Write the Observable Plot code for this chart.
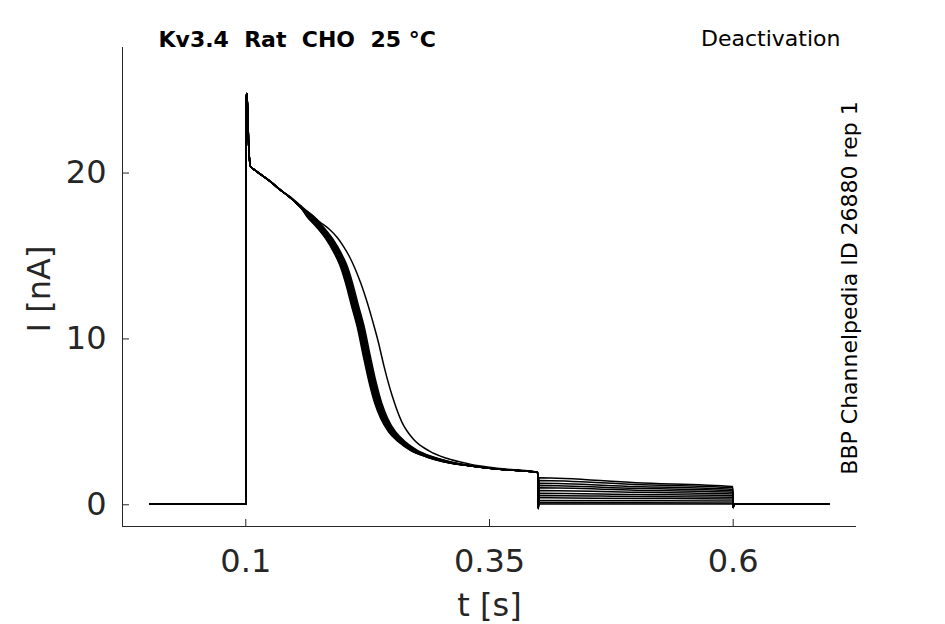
<!DOCTYPE html>
<html>
<head>
<meta charset="utf-8">
<script src="https://cdn.jsdelivr.net/npm/d3@7"></script>
<script src="https://cdn.jsdelivr.net/npm/@observablehq/plot@0.6"></script>
<style>
  html, body { margin: 0; padding: 0; background: #fff; }
  svg text { white-space: pre; }
</style>
</head>
<body>
<div id="chart"></div>
<script>
// ---- data ----
const titleText = "Kv3.4  Rat  CHO  25 °C";
const protocolText = "Deactivation";
const sourceText = "BBP Channelpedia ID 26880 rep 1";
const xLabel = "t [s]";
const yLabel = "I [nA]";
const xTicks = [0.1, 0.35, 0.6];
const xTickLabels = ["0.1", "0.35", "0.6"];
const yTicks = [0, 10, 20];
const xDomain = [-0.0265, 0.7265];
const yDomain = [-1.31, 27.57];

// holding baseline and tail
const baseStartT = 0.0015, baseEndT = 0.0999, baselineI = 0.05;
const tailStartT = 0.6008, tailEndT = 0.698, tailI = 0.04;

// activation pulse (time grid, s) and currents (nA)
const pulseT = [0.1000, 0.1005, 0.1012, 0.1030, 0.1048, 0.1100, 0.1250, 0.1350, 0.1460, 0.1560,
                0.1660, 0.1760, 0.1860, 0.1940, 0.2000, 0.2060, 0.2120, 0.2180, 0.2240, 0.2300,
                0.2360, 0.2420, 0.2500, 0.2600, 0.2720, 0.2880, 0.3060, 0.3300, 0.3580, 0.3995];
const bundleI = [0.05, 24.6, 24.8, 21.6, 20.4, 20.15, 19.5, 19.0, 18.5, 17.95,
                 17.4, 16.75, 16.0, 15.2, 14.45, 13.35, 12.0, 10.7, 9.0, 7.4,
                 6.1, 5.2, 4.4, 3.8, 3.3, 2.9, 2.6, 2.35, 2.15, 1.95];
const outlierI = [0.05, 24.6, 24.8, 21.6, 20.4, 20.15, 19.5, 19.0, 18.55, 18.05,
                  17.55, 17.05, 16.6, 16.1, 15.6, 15.0, 14.25, 13.35, 12.3, 11.1,
                  9.8, 8.3, 6.6, 5.0, 3.95, 3.25, 2.8, 2.45, 2.2, 1.97];
// per-sweep spread of the inactivation time inside the bundle (s)
const bundleDelay = [-0.0036, -0.0029, -0.0022, -0.0015, -0.0008, -0.0002, 0.0004, 0.0011, 0.0018, 0.0026, 0.0036];
const delayFrom = 0.166, delayTo = 0.306;

// deactivation step (0.4 – 0.6 s): per-sweep currents at start, middle, end
const stepOnT = 0.4000, stepOnSpike = -0.22;
const deacT = [0.4008, 0.5000, 0.5995];
const deacStart = [1.63, 1.46, 1.30, 1.16, 1.02, 0.70, 0.56, 0.42, 0.26, 0.12, 0.04, 0.86];
const deacMid   = [1.33, 1.22, 1.10, 0.99, 0.88, 0.62, 0.50, 0.38, 0.24, 0.12, 0.04, 0.75];
const deacEnd   = [1.10, 1.02, 0.92, 0.84, 0.75, 0.55, 0.45, 0.35, 0.22, 0.11, 0.04, 0.65];
const stepOffT = 0.6000, stepOffSpike = -0.17;

// ---- build sweep table ----
const rows = [];
const nSweeps = deacStart.length;
for (let k = 0; k < nSweeps; k++) {
  const isOutlier = k === nSweeps - 1;
  const vals = isOutlier ? outlierI : bundleI;
  const d = isOutlier ? 0 : bundleDelay[k];
  const push = (t, I) => rows.push({sweep: k, t, I});
  push(baseStartT, baselineI);
  push(baseEndT, baselineI);
  pulseT.forEach((t, i) => push(t >= delayFrom && t <= delayTo ? t + d : t, vals[i]));
  push(stepOnT, stepOnSpike);
  push(deacT[0], deacStart[k]);
  push(deacT[1], deacMid[k]);
  push(deacT[2], deacEnd[k]);
  push(stepOffT, stepOffSpike);
  push(tailStartT, tailI);
  push(tailEndT, tailI);
}

const axisColor = "#262626";
const font = "DejaVu Sans";

const chart = Plot.plot({
  width: 945,
  height: 624,
  marginLeft: 122,
  marginRight: 89,
  marginTop: 47,
  marginBottom: 98,
  style: {fontFamily: font, background: "white", color: axisColor},
  x: {domain: xDomain},
  y: {domain: yDomain},
  marks: [
    Plot.line(rows, {x: "t", y: "I", z: "sweep", stroke: "black", strokeWidth: 1.5, curve: "monotone-x"}),
    Plot.ruleX([xDomain[0]], {stroke: axisColor, strokeWidth: 1}),
    Plot.ruleY([yDomain[0]], {stroke: axisColor, strokeWidth: 1}),
    Plot.axisX({ticks: xTicks, tickSize: 7, dy: -7, fill: "none", stroke: axisColor, label: null}),
    Plot.axisX({ticks: xTicks, tickSize: 0, tickPadding: 23, fontSize: 32, fill: axisColor, label: null,
                tickFormat: (d) => xTickLabels[xTicks.indexOf(d)]}),
    Plot.axisY({ticks: yTicks, tickSize: 7, dx: 7, fill: "none", stroke: axisColor, label: null}),
    Plot.axisY({ticks: yTicks, tickSize: 0, tickPadding: 16, fontSize: 32, fill: axisColor, label: null,
                tickFormat: (d) => String(d)}),
    Plot.text([xLabel], {text: d => d, frameAnchor: "bottom", dy: 79, fontSize: 32, fill: axisColor, textAnchor: "middle", lineAnchor: "middle"}),
    Plot.text([yLabel], {text: d => d, frameAnchor: "left", dx: -83, dy: 2, rotate: -90, fontSize: 32, fill: axisColor, textAnchor: "middle", lineAnchor: "middle"}),
    Plot.text([titleText], {text: d => d, frameAnchor: "top-left", dx: 36, dy: -8, textAnchor: "start", fontSize: 22, fontWeight: "bold", fill: "black", lineAnchor: "middle"}),
    Plot.text([protocolText], {text: d => d, frameAnchor: "top-right", dx: -16, dy: -9, textAnchor: "end", fontSize: 22, fill: "black", lineAnchor: "middle"}),
    Plot.text([sourceText], {text: d => d, frameAnchor: "right", dx: -6.5, dy: 1, rotate: -90, fontSize: 22, fill: "black", textAnchor: "middle", lineAnchor: "middle"})
  ]
});
document.getElementById("chart").appendChild(chart);
</script>
</body>
</html>
